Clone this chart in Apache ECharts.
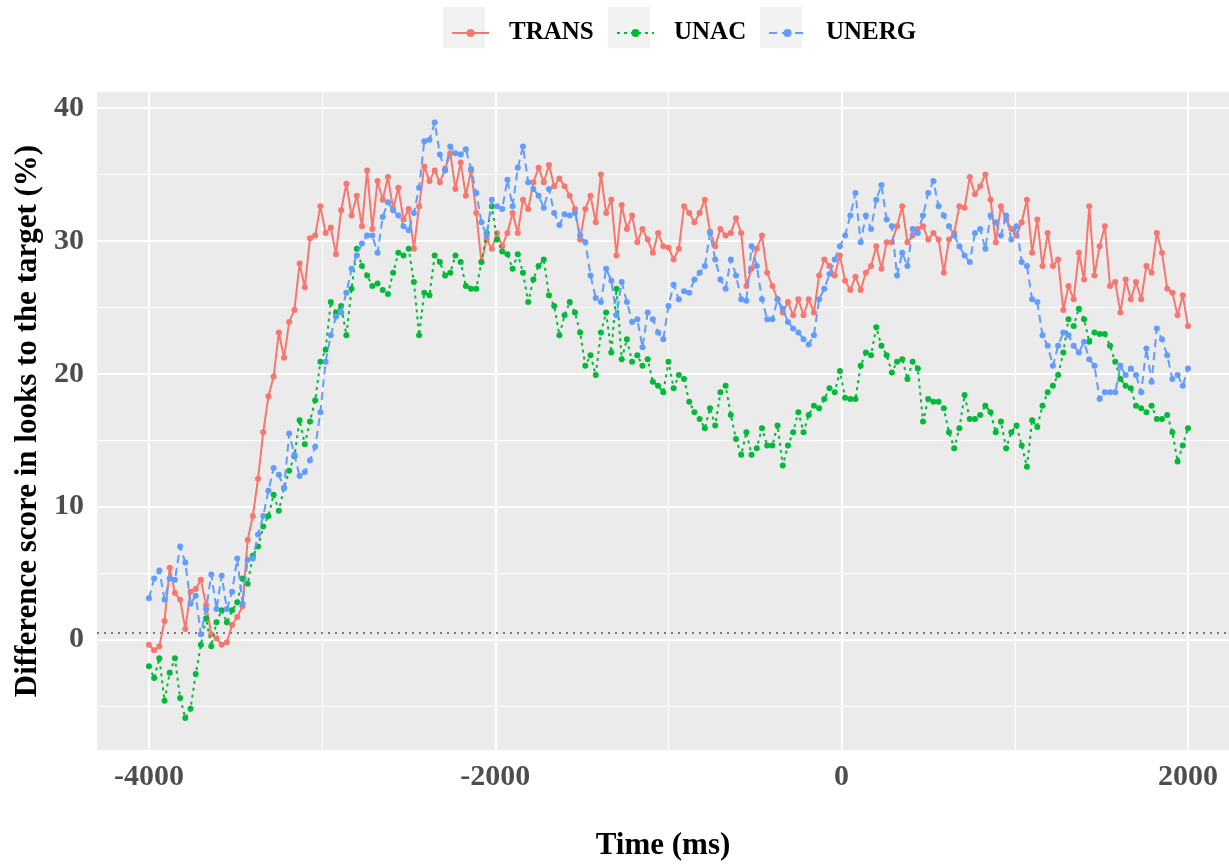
<!DOCTYPE html>
<html><head><meta charset="utf-8">
<script src="https://cdn.jsdelivr.net/npm/echarts@6/dist/echarts.min.js"></script>
<style>html,body{margin:0;padding:0;background:#fff}#c{width:1229px;height:866px}</style>
</head><body><div id="c"></div>
<script>
// ---- data ----
const seriesNames = ['TRANS', 'UNAC', 'UNERG'];
const timeStart = -4000, timeStep = 30, timeEnd = 2000;   // sample times (ms)

const trans = [
  -0.4, -0.8, -0.5, 1.4, 5.4, 3.5, 3.0, 0.8, 3.6, 3.8,
  4.5, 2.6, 0.4, 0.1, -0.4, -0.2, 1.1, 1.7, 2.5, 7.5,
  9.3, 12.1, 15.6, 18.3, 19.8, 23.1, 21.2, 23.9, 24.8, 28.3,
  26.5, 30.2, 30.4, 32.6, 30.6, 31.0, 29.0, 32.3, 34.3, 31.9,
  33.4, 31.1, 35.3, 30.9, 34.5, 33.1, 34.8, 32.4, 34.0, 31.6,
  32.4, 29.4, 32.6, 35.6, 34.5, 35.3, 34.4, 35.4, 36.6, 33.9,
  35.9, 33.4, 35.3, 32.1, 28.4, 30.1, 29.4, 30.6, 29.6, 30.6,
  32.1, 30.6, 33.1, 32.4, 34.4, 35.5, 34.4, 35.7, 34.1, 34.7,
  34.1, 33.4, 32.4, 30.1, 32.4, 33.4, 31.4, 35.0, 32.1, 33.1,
  28.9, 32.7, 30.9, 31.9, 29.9, 30.9, 30.1, 29.1, 30.6, 29.6,
  29.5, 28.6, 29.4, 32.6, 32.1, 31.4, 32.1, 33.1, 30.7, 29.6,
  30.9, 30.4, 30.6, 31.7, 30.6, 26.6, 27.9, 29.4, 30.4, 27.6,
  26.6, 25.6, 24.6, 25.4, 24.4, 25.6, 24.4, 25.6, 24.6, 27.4,
  28.6, 28.1, 27.4, 28.9, 27.0, 26.3, 27.3, 26.3, 27.6, 28.1,
  29.6, 27.9, 29.9, 29.9, 31.1, 32.6, 29.9, 30.4, 30.9, 31.1,
  30.1, 30.6, 30.1, 27.6, 30.1, 30.6, 32.6, 32.5, 34.8, 33.5,
  34.1, 35.0, 33.1, 29.9, 32.6, 31.6, 30.9, 30.4, 31.4, 33.1,
  29.1, 31.6, 28.1, 30.6, 28.1, 28.6, 24.8, 26.6, 25.6, 29.1,
  27.1, 32.6, 27.4, 29.6, 31.1, 26.6, 26.9, 24.6, 27.1, 25.6,
  26.9, 25.6, 28.1, 27.6, 30.6, 29.1, 26.4, 26.1, 24.4, 25.9,
  23.6
];

const unac = [
  -2.0, -2.9, -1.4, -4.6, -2.5, -1.4, -4.4, -5.9, -5.2, -2.6,
  -0.4, 1.6, -0.5, 1.3, 2.2, 1.3, 2.2, 2.8, 4.6, 4.2,
  6.3, 7.0, 8.5, 9.3, 10.9, 9.7, 11.4, 12.7, 13.8, 16.5,
  14.7, 16.4, 18.0, 20.9, 21.8, 25.4, 24.6, 25.1, 22.9, 26.4,
  29.4, 28.1, 27.4, 26.6, 26.8, 26.3, 26.0, 27.6, 29.1, 28.9,
  29.4, 26.9, 22.9, 26.1, 25.9, 28.9, 28.4, 27.4, 27.6, 28.9,
  28.4, 26.6, 26.4, 26.4, 28.4, 30.6, 32.6, 30.1, 29.2, 29.0,
  27.9, 29.0, 27.6, 25.4, 27.1, 28.1, 28.6, 25.9, 25.1, 22.9,
  24.4, 25.4, 24.6, 23.1, 20.6, 21.4, 19.9, 23.1, 24.6, 21.6,
  26.4, 21.1, 22.6, 20.9, 21.4, 20.6, 21.1, 19.4, 19.1, 18.6,
  20.9, 18.9, 19.9, 19.6, 17.9, 17.1, 16.6, 15.9, 17.4, 16.1,
  18.6, 19.1, 16.9, 15.1, 13.9, 15.6, 13.9, 14.4, 15.9, 14.6,
  14.6, 16.1, 13.1, 14.6, 15.6, 17.1, 15.6, 16.9, 17.6, 17.4,
  18.1, 18.9, 18.6, 20.2, 18.2, 18.1, 18.1, 20.6, 21.6, 21.4,
  23.5, 22.1, 21.4, 20.1, 20.9, 21.1, 19.6, 20.9, 20.4, 16.4,
  18.1, 17.9, 17.9, 17.4, 15.6, 14.4, 15.9, 18.4, 16.6, 16.6,
  16.9, 17.6, 17.1, 15.6, 16.4, 14.4, 15.6, 16.1, 14.6, 13.0,
  16.5, 16.0, 17.6, 18.6, 19.1, 19.9, 21.6, 24.1, 23.6, 24.9,
  24.1, 22.4, 23.1, 23.0, 23.0, 22.1, 20.9, 19.6, 19.1, 18.9,
  17.6, 17.4, 17.1, 17.6, 16.6, 16.6, 16.9, 15.6, 13.4, 14.6,
  15.9
];

const unerg = [
  3.1, 4.6, 5.2, 3.0, 4.6, 4.5, 7.0, 5.8, 2.7, 3.3,
  0.4, 2.3, 4.9, 2.3, 4.8, 2.3, 3.6, 6.1, 2.7, 6.0,
  6.1, 7.9, 9.3, 11.2, 12.9, 12.4, 11.4, 15.5, 13.9, 12.3,
  12.6, 13.5, 14.5, 17.1, 20.9, 22.9, 24.3, 24.6, 26.1, 27.9,
  28.9, 29.8, 30.4, 30.4, 29.1, 31.8, 32.9, 32.3, 31.9, 31.1,
  30.8, 32.1, 34.0, 37.5, 37.6, 38.9, 36.5, 35.3, 37.1, 36.6,
  36.5, 36.9, 35.4, 33.6, 31.4, 30.4, 33.1, 32.6, 32.4, 34.6,
  32.6, 35.5, 37.1, 34.4, 33.9, 33.4, 32.5, 33.9, 32.1, 31.2,
  32.0, 31.9, 32.1, 30.4, 29.9, 27.4, 25.7, 25.4, 27.9, 27.0,
  24.4, 26.9, 25.4, 23.9, 24.1, 22.0, 24.6, 24.1, 23.1, 22.6,
  25.1, 26.7, 25.6, 26.2, 26.1, 27.1, 27.6, 28.1, 30.6, 28.6,
  27.1, 26.4, 28.6, 27.4, 25.6, 25.5, 29.6, 28.1, 25.6, 24.1,
  24.1, 25.6, 24.9, 23.9, 23.4, 23.1, 22.6, 22.2, 22.9, 25.6,
  26.4, 27.5, 28.6, 29.6, 30.4, 31.9, 33.6, 29.9, 31.9, 30.9,
  33.1, 34.2, 31.6, 31.1, 27.4, 29.1, 28.1, 30.9, 30.6, 31.9,
  33.6, 34.5, 32.6, 31.9, 31.1, 30.4, 29.6, 28.9, 28.4, 30.6,
  30.9, 29.4, 31.9, 31.4, 30.4, 31.9, 30.1, 31.1, 28.4, 28.1,
  25.6, 25.4, 22.9, 22.1, 20.6, 22.1, 23.1, 22.9, 22.1, 21.6,
  22.4, 21.1, 20.6, 18.1, 18.6, 18.6, 18.6, 20.6, 19.9, 20.4,
  19.9, 18.6, 21.9, 19.4, 23.4, 22.6, 21.4, 19.6, 19.9, 19.1,
  20.4
];

const xTicks = [-4000, -2000, 0, 2000];
const xMinor = [-3000, -1000, 1000];
const yTicks = [0, 10, 20, 30, 40];
const yMinor = [-5, 5, 15, 25, 35];
const refLineY = 0.5;

// ---- chart ----
const times = [];
for (let t = timeStart; t <= timeEnd; t += timeStep) times.push(t);
const pairs = vals => vals.map((v, i) => [times[i], v]);

const colors = ['#F8766D', '#00BA38', '#619CFF'];
const dashTypes = ['solid', [3, 4], [8, 5]];
const valuesBySeries = [trans, unac, unerg];
const FONT = '"Liberation Serif", "DejaVu Serif", serif';

const gridLines = [];
xTicks.forEach(v => gridLines.push({ xAxis: v, lineStyle: { color: '#fff', width: 2, type: 'solid' } }));
xMinor.forEach(v => gridLines.push({ xAxis: v, lineStyle: { color: '#fff', width: 1, type: 'solid' } }));
yTicks.forEach(v => gridLines.push({ yAxis: v, lineStyle: { color: '#fff', width: 2, type: 'solid' } }));
yMinor.forEach(v => gridLines.push({ yAxis: v, lineStyle: { color: '#fff', width: 1, type: 'solid' } }));

const series = [{
  name: '_grid', type: 'line', data: [], silent: true, z: 1,
  markLine: { silent: true, symbol: 'none', z: 1, animation: false, label: { show: false }, data: gridLines }
}, {
  name: '_ref', type: 'line', data: [], silent: true, z: 1,
  markLine: { silent: true, symbol: 'none', z: 1, animation: false, label: { show: false },
    data: [{ yAxis: refLineY, lineStyle: { color: '#555', width: 1.6, type: [2, 5] } }] }
}];
seriesNames.forEach((n, i) => {
  series.push({
    name: n, type: 'line', data: pairs(valuesBySeries[i]), z: 3 + i,
    symbol: 'circle', symbolSize: 6, showSymbol: true,
    color: colors[i],
    itemStyle: { color: colors[i] },
    lineStyle: { color: colors[i], width: 2, type: dashTypes[i] },
    emphasis: { disabled: true }
  });
});

const legendLefts = [446, 611, 763];
const keyLefts = [443, 608, 760];
const legends = seriesNames.map((n, i) => ({
  data: [{ name: n, itemStyle: { borderWidth: 0 } }], left: legendLefts[i], top: 14, orient: 'horizontal',
  itemWidth: 37, itemHeight: 10, selectedMode: false,
  textStyle: { fontFamily: FONT, fontWeight: 'bold', fontSize: 25, color: '#000', lineHeight: 28, padding: [0, 0, 0, 15] }
}));

const plainNum = v => String(v);

const chart = echarts.init(document.getElementById('c'), null, { renderer: 'canvas' });
chart.setOption({
  animation: false,
  backgroundColor: '#fff',
  graphic: keyLefts.map(x => ({ type: 'rect', left: x, top: 7, z: -1, shape: { width: 42, height: 41 }, style: { fill: '#F2F2F2' } })),
  legend: legends,
  grid: { left: 97, top: 92, width: 1132, height: 661, show: true, backgroundColor: '#EBEBEB', borderWidth: 0, containLabel: false },
  xAxis: {
    type: 'value', min: -4300, max: 2237,
    axisLine: { show: false },
    axisTick: { show: true, length: 5, customValues: xTicks, lineStyle: { color: '#333', width: 1.5 } },
    axisLabel: { customValues: xTicks, formatter: plainNum, fontFamily: FONT, fontWeight: 'bold', fontSize: 30, color: '#4D4D4D', margin: 12 },
    splitLine: { show: false }, minorSplitLine: { show: false },
    name: 'Time (ms)', nameLocation: 'middle', nameGap: 80,
    nameTextStyle: { fontFamily: FONT, fontWeight: 'bold', fontSize: 31, color: '#000' }
  },
  yAxis: {
    type: 'value', min: -8.31, max: 41.2,
    axisLine: { show: false },
    axisTick: { show: true, length: 5, customValues: yTicks, lineStyle: { color: '#333', width: 1.5 } },
    axisLabel: { customValues: yTicks, formatter: plainNum, fontFamily: FONT, fontWeight: 'bold', fontSize: 30, color: '#4D4D4D', margin: 13 },
    splitLine: { show: false }, minorSplitLine: { show: false },
    name: 'Difference score in looks to the target (%)', nameLocation: 'middle', nameGap: 52,
    nameTextStyle: { fontFamily: FONT, fontWeight: 'bold', fontSize: 31, color: '#000' }
  },
  series: series
});
</script>
</body></html>
